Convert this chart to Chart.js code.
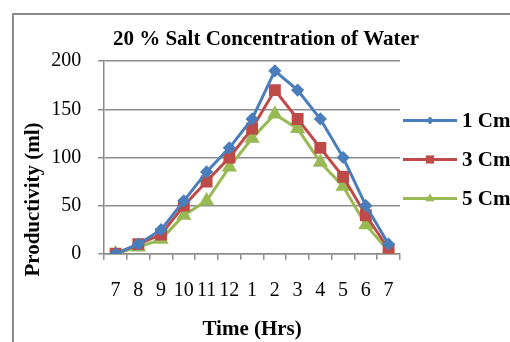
<!DOCTYPE html>
<html>
<head>
<meta charset="utf-8">
<script src="https://cdn.jsdelivr.net/npm/chart.js@4"></script>
<style>
  html, body { margin: 0; padding: 0; background: #fff; }
  #wrap { position: relative; width: 510px; height: 342px; overflow: hidden; }
  #frame { position: absolute; left: 12px; top: 13px; width: 600px; height: 400px;
           border-left: 2px solid #8c8c8c; border-top: 2px solid #8c8c8c; }
  canvas { position: absolute; left: 0; top: 0; }
</style>
</head>
<body>
<div id="wrap">
  <div id="frame"></div>
  <canvas id="chart" width="510" height="342"></canvas>
</div>
<script>
// time of day (hours)
const hours = ['7', '8', '9', '10', '11', '12', '1', '2', '3', '4', '5', '6', '7'];
// productivity in ml for each depth
const cm1 = [0, 10, 25, 55, 85, 110, 140, 190, 170, 140, 100, 50, 10];
const cm3 = [0, 10, 20, 50, 75, 100, 130, 170, 140, 110, 80, 40, 5];
const cm5 = [0, 7, 15, 40, 55, 90, 120, 145, 130, 95, 70, 30, 3];
const yTicks = [0, 50, 100, 150, 200];

const blue = '#4a7ebb';
const red = '#be4b48';
const green = '#98b954';
const serif = 'Liberation Serif';

// legend on the right: line + marker + label, like the excel one
const sideLegend = {
    id: 'sideLegend',
    afterLayout(chart) {
        // title is centred over the whole frame, legend included
        chart.titleBlock.left = 19;
        chart.titleBlock.right = 513;
    },
    afterDraw(chart) {
        const c = chart.ctx;
        const area = chart.chartArea;
        const x0 = area.right + 3;
        const mid = (area.top + area.bottom) / 2;
        c.save();
        chart.data.datasets.forEach((ds, i) => {
            const y = mid - 37 + i * 39;
            c.strokeStyle = ds.borderColor;
            c.lineWidth = 3;
            c.beginPath();
            c.moveTo(x0, y);
            c.lineTo(x0 + 54, y);
            c.stroke();
            c.fillStyle = ds.borderColor;
            Chart.helpers.drawPoint(c, { pointStyle: ds.pointStyle, radius: ds.pointRadius - 0.5,
                                         borderWidth: 0 }, x0 + 27, y);
            c.fillStyle = '#000';
            c.font = 'bold 21px ' + serif;
            c.textBaseline = 'middle';
            c.fillText(ds.label, x0 + 59, y + 1);
        });
        c.restore();
    }
};

const ctx = document.getElementById('chart').getContext('2d');
new Chart(ctx, {
    type: 'line',
    data: {
        labels: hours,
        datasets: [
            { label: '1 Cm', data: cm1, borderColor: blue, backgroundColor: blue,
              pointStyle: 'rectRot', pointRadius: 4.5, borderWidth: 3 },
            { label: '3 Cm', data: cm3, borderColor: red, backgroundColor: red,
              pointStyle: 'rect', pointRadius: 6.3, borderWidth: 3 },
            { label: '5 Cm', data: cm5, borderColor: green, backgroundColor: green,
              pointStyle: 'triangle', pointRadius: 5.8, borderWidth: 3 }
        ]
    },
    plugins: [sideLegend],
    options: {
        responsive: false,
        animation: false,
        devicePixelRatio: 1,
        layout: { padding: { top: 27, left: 21, right: 110, bottom: 0 } },
        plugins: {
            title: {
                display: true,
                text: '20 % Salt Concentration of Water',
                color: '#000',
                font: { family: serif, size: 21, weight: 'bold' },
                padding: { top: 0, bottom: 9 }
            },
            legend: { display: false },
            tooltip: { enabled: false }
        },
        scales: {
            x: {
                offset: true,
                grid: { display: true, drawOnChartArea: false, drawTicks: true, tickLength: 6,
                        offset: true, color: '#8c8c8c', lineWidth: 1.5 },
                border: { color: '#8c8c8c', width: 1.5 },
                ticks: { color: '#000', font: { family: serif, size: 20 }, padding: 19,
                         maxRotation: 0, autoSkip: false },
                title: { display: true, text: 'Time (Hrs)', color: '#000',
                         font: { family: serif, size: 21, weight: 'bold' },
                         padding: { top: -5, bottom: 0 } }
            },
            y: {
                min: 0,
                max: 200,
                afterBuildTicks: axis => { axis.ticks = yTicks.map(v => ({ value: v })); },
                grid: { color: '#8c8c8c', lineWidth: 1.5, tickLength: 6 },
                border: { color: '#8c8c8c', width: 1.5 },
                ticks: { color: '#000', font: { family: serif, size: 20 }, padding: 17 },
                title: { display: true, text: 'Productivity (ml)                ', color: '#000',
                         font: { family: serif, size: 21, weight: 'bold' },
                         padding: { top: 0, bottom: -12 } }
            }
        }
    }
});
</script>
</body>
</html>
